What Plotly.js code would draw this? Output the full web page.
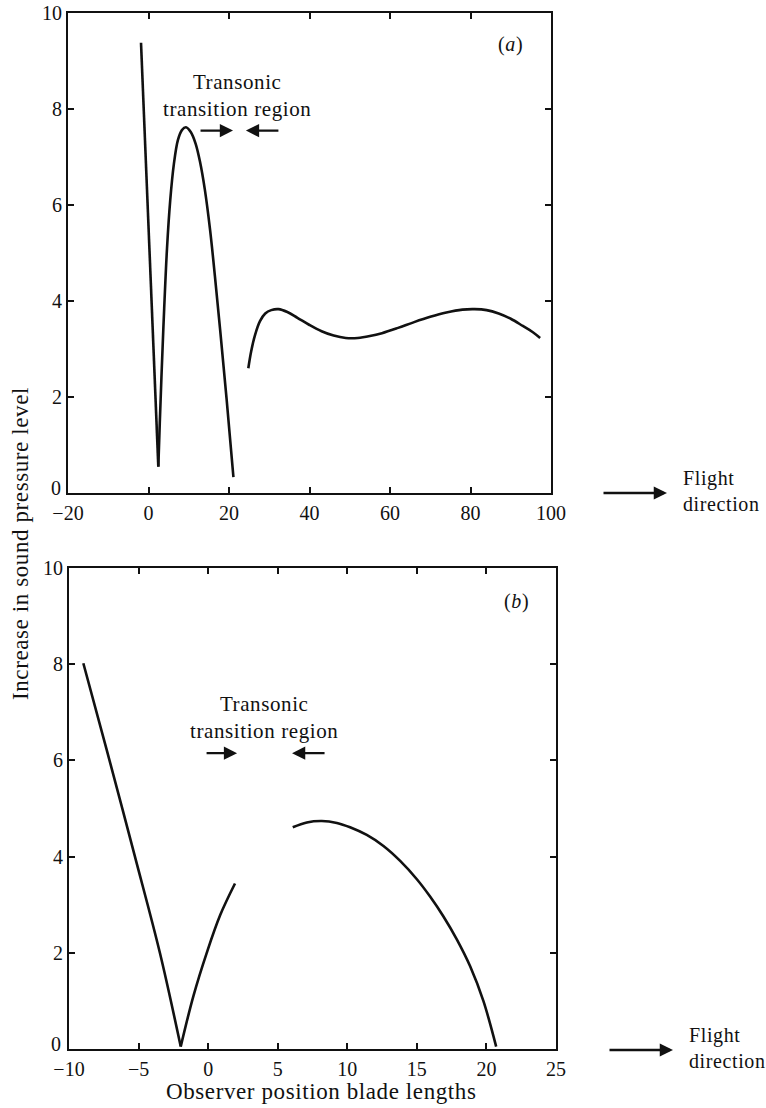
<!DOCTYPE html>
<html>
<head>
<meta charset="utf-8">
<script src="https://cdn.plot.ly/plotly-3.0.1.min.js"></script>
<style>
  html, body { margin: 0; padding: 0; background: #fff; }
  #chart { width: 766px; height: 1108px; }
  .annotation-text { letter-spacing: 0.6px; }
</style>
</head>
<body>
<div id="chart"></div>
<script>
// ---------- data ----------
// Panel (a): x = observer position (blade lengths), y = increase in SPL
const aDropX = [-1.86, 2.44];
const aDropY = [9.38, 0.55];
const aHumpX = [2.44, 2.8, 3.3, 3.9, 4.6, 5.4, 6.3, 7.3, 8.3, 9.3, 10.5, 11.7, 12.8, 14.0, 15.3, 16.5, 17.8, 19.4, 21.1];
const aHumpY = [0.55, 1.45, 2.6, 3.85, 5.1, 6.1, 6.85, 7.35, 7.56, 7.62, 7.52, 7.28, 6.90, 6.32, 5.48, 4.52, 3.40, 1.96, 0.33];
const aWaveX = [24.8, 25.5, 26.5, 27.7, 29.0, 30.5, 32.3, 34.5, 37, 40, 43, 46, 49, 52, 55, 58, 62, 66, 70, 74, 78, 81, 84, 87, 90, 93, 95.5, 97.3];
const aWaveY = [2.60, 2.95, 3.30, 3.58, 3.74, 3.81, 3.83, 3.77, 3.65, 3.50, 3.37, 3.28, 3.23, 3.23, 3.27, 3.33, 3.44, 3.56, 3.67, 3.76, 3.82, 3.83, 3.81, 3.74, 3.63, 3.48, 3.35, 3.23];

// Panel (b)
const bDropX = [-8.97, -7.29, -5.26, -3.46, -1.97];
const bDropY = [8.02, 6.22, 4.00, 1.99, 0.05];
const bRiseX = [-1.97, -1.06, -0.10, 0.86, 1.93];
const bRiseY = [0.05, 1.10, 2.00, 2.78, 3.44];
const bArchX = [6.08, 7.09, 8.17, 9.25, 10.2, 11.4, 12.6, 13.8, 15.0, 15.95, 16.9, 17.87, 18.83, 19.78, 20.7];
const bArchY = [4.61, 4.71, 4.74, 4.70, 4.61, 4.45, 4.22, 3.91, 3.53, 3.17, 2.76, 2.28, 1.72, 1.00, 0.05];

// tick values / labels
const aXTicks = [-20, 0, 20, 40, 60, 80, 100];
const bXTicks = [-10, -5, 0, 5, 10, 15, 20, 25];
const yTicks = [0, 2, 4, 6, 8, 10];
const yTickText = ['', '2', '4', '6', '8', '10'];   // the "0" is drawn just above, as in the reference
const yZeroLabel = '0';

// text
const yTitle = 'Increase in sound pressure level';
const xTitle = 'Observer position blade lengths';
const regionText = 'Transonic<br>transition region';
const flightText = 'Flight<br>direction';

// ---------- drawing ----------
const FONT = 'Liberation Serif, Times New Roman, serif';
const INK = '#111';

function tr(x, y, xa, ya, shape) {
  return {x: x, y: y, xaxis: xa, yaxis: ya, type: 'scatter', mode: 'lines',
          line: {color: INK, width: 2.6, shape: shape, smoothing: 1.0}, hoverinfo: 'skip'};
}

const data = [
  tr(aDropX, aDropY, 'x', 'y', 'linear'),
  tr(aHumpX, aHumpY, 'x', 'y', 'spline'),
  tr(aWaveX, aWaveY, 'x', 'y', 'spline'),
  tr(bDropX, bDropY, 'x2', 'y2', 'spline'),
  tr(bRiseX, bRiseY, 'x2', 'y2', 'spline'),
  tr(bArchX, bArchY, 'x2', 'y2', 'spline')
];

const W = 766, H = 1108;
const px = v => v / W;
const py = v => 1 - v / H;

function axisBase() {
  return {
    showline: true, linewidth: 2, linecolor: INK, mirror: 'ticks',
    ticks: 'inside', ticklen: 6, tickwidth: 2, tickcolor: INK,
    showgrid: false, zeroline: false, fixedrange: true,
    tickfont: {family: FONT, size: 20, color: INK}
  };
}

const layout = {
  width: W, height: H,
  margin: {l: 0, r: 0, t: 0, b: 0},
  paper_bgcolor: '#fff', plot_bgcolor: '#fff',
  showlegend: false,
  font: {family: FONT, color: INK},
  xaxis: Object.assign(axisBase(), {domain: [px(68), px(551)], range: [-20, 100],
          tickvals: aXTicks, anchor: 'y', ticklabelstandoff: 1}),
  yaxis: Object.assign(axisBase(), {domain: [py(493), py(13)], range: [0, 10],
          tickvals: yTicks, ticktext: yTickText, anchor: 'x'}),
  xaxis2: Object.assign(axisBase(), {domain: [px(69), px(556)], range: [-10, 25],
          tickvals: bXTicks, anchor: 'y2', ticklabelstandoff: 1}),
  yaxis2: Object.assign(axisBase(), {domain: [py(1049), py(568)], range: [0, 10],
          tickvals: yTicks, ticktext: yTickText, anchor: 'x2'}),
  annotations: []
};

const ann = layout.annotations;
const f = size => ({family: FONT, size: size, color: INK});

// zero labels of the y axes (slightly raised, as in the reference)
ann.push({xref: 'paper', yref: 'y', x: px(64), y: 0, yshift: 5, text: yZeroLabel,
          showarrow: false, font: f(20), xanchor: 'right', yanchor: 'middle'});
ann.push({xref: 'paper', yref: 'y2', x: px(64), y: 0, yshift: 5, text: yZeroLabel,
          showarrow: false, font: f(20), xanchor: 'right', yanchor: 'middle'});

// panel labels
ann.push({xref: 'paper', yref: 'paper', x: px(510), y: py(44), text: '(<i>a</i>)',
          showarrow: false, font: f(20), xanchor: 'center', yanchor: 'middle'});
ann.push({xref: 'paper', yref: 'paper', x: px(516), y: py(601), text: '(<i>b</i>)',
          showarrow: false, font: f(20), xanchor: 'center', yanchor: 'middle'});

// transonic region labels
ann.push({xref: 'paper', yref: 'paper', x: px(237), y: py(95), text: regionText,
          showarrow: false, font: f(21), xanchor: 'center', yanchor: 'middle'});
ann.push({xref: 'paper', yref: 'paper', x: px(264), y: py(717), text: regionText,
          showarrow: false, font: f(21), xanchor: 'center', yanchor: 'middle'});

// small arrows marking the region
function arrow(xref, yref, x, y, ax) {
  return {xref: xref, yref: yref, x: x, y: y, ax: ax, ay: 0, text: '',
          showarrow: true, arrowhead: 2, arrowsize: 1.15, arrowwidth: 2.3, arrowcolor: INK};
}
ann.push(arrow('x', 'y', 21.0, 7.55, -34));
ann.push(arrow('x', 'y', 24.2, 7.55, 34));
ann.push(arrow('x2', 'y2', 2.08, 6.15, -32));
ann.push(arrow('x2', 'y2', 6.03, 6.15, 34));

// flight direction
ann.push(arrow('paper', 'paper', px(667), py(493), -65));
ann.push(arrow('paper', 'paper', px(673), py(1050), -65));
ann.push({xref: 'paper', yref: 'paper', x: px(681), y: py(491), text: flightText,
          showarrow: false, font: f(20), xanchor: 'left', yanchor: 'middle', align: 'left'});
ann.push({xref: 'paper', yref: 'paper', x: px(687), y: py(1048), text: flightText,
          showarrow: false, font: f(20), xanchor: 'left', yanchor: 'middle', align: 'left'});

// axis titles
ann.push({xref: 'paper', yref: 'paper', x: px(20), y: py(544), text: yTitle, textangle: -90,
          showarrow: false, font: f(23), xanchor: 'center', yanchor: 'middle'});
ann.push({xref: 'paper', yref: 'paper', x: px(321), y: py(1091), text: xTitle,
          showarrow: false, font: f(23), xanchor: 'center', yanchor: 'middle'});

Plotly.newPlot('chart', data, layout, {displayModeBar: false, staticPlot: true});
</script>
</body>
</html>
